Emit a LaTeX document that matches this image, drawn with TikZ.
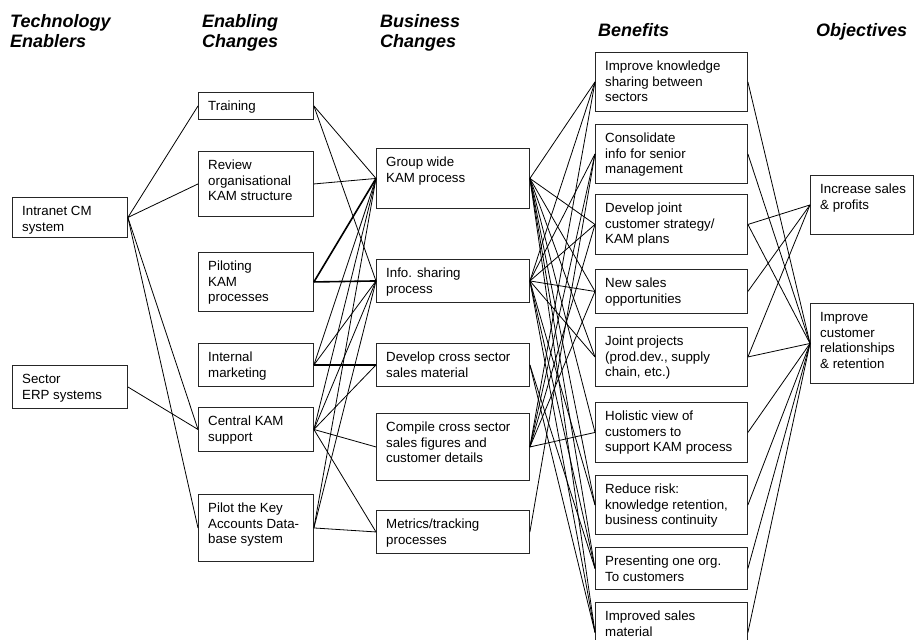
\documentclass[tikz,border=0pt]{standalone}
\usepackage{fontspec}
\setmainfont{Liberation Sans}
\usetikzlibrary{calc}
\tikzset{
  boxst/.style={draw=black!85, line width=0.9pt, inner sep=0pt, fill=none},
  txtst/.style={anchor=north west, inner sep=0pt, align=left, font=\fontsize{13.3}{15.8}\selectfont},
  headst/.style={anchor=north west, inner sep=0pt, align=left, font=\fontsize{18}{20}\selectfont\bfseries\itshape},
  ln/.style={draw=black, line width=0.8pt},
  lnb/.style={draw=black, line width=1.6pt}
}
\newcommand\bx[6]{%
  \node[boxst, minimum width=#4pt, minimum height=#5pt, anchor=north west] (#1) at (#2,#3) {};
  \node[txtst] (#1-t) at ($(#1.north west)+(10,6)$) {\rule{0pt}{12pt}#6};}
\begin{document}
\begin{tikzpicture}[x=1pt,y=-1pt]
\useasboundingbox (0,0) rectangle (914,640);
\fill[white] (0,0) rectangle (914,640);
% headers
\node[headst] (h1) at (10,13) {\rule{0pt}{14pt}Technology\\Enablers};
\node[headst] (h2) at (202,13) {\rule{0pt}{14pt}Enabling\\Changes};
\node[headst] (h3) at (380,13) {\rule{0pt}{14pt}Business\\Changes};
\node[headst] (h4) at (598,22) {\rule{0pt}{14pt}Benefits};
\node[headst] (h5) at (816,22) {\rule{0pt}{14pt}Objectives};
% column 1
\bx{IC}{12}{197}{115}{40}{Intranet CM\\system}
\bx{SE}{12}{365}{115}{43}{Sector\\ERP systems}
% column 2
\bx{TR}{198}{92}{115}{27}{Training}
\bx{RV}{198}{151}{115}{65}{Review\\organisational\\KAM structure}
\bx{PK}{198}{252}{115}{59}{Piloting\\KAM\\processes}
\bx{IM}{198}{343}{115}{43}{Internal\\marketing}
\bx{CK}{198}{407}{115}{44}{Central KAM\\support}
\bx{PD}{198}{494}{115}{67}{Pilot the Key\\Accounts Data-\\base system}
% column 3
\bx{GW}{376}{148}{153}{60}{Group wide\\KAM process}
\bx{IS}{376}{259}{153}{43}{Info. sharing\\process}
\bx{DC}{376}{343}{153}{43}{Develop cross sector\\sales material}
\bx{CC}{376}{413}{153}{67}{Compile cross sector\\sales figures and\\customer details}
\bx{MT}{376}{510}{153}{43}{Metrics/tracking\\processes}
% column 4
\bx{IKS}{595}{52}{152}{59}{Improve knowledge\\sharing between\\sectors}
\bx{CI}{595}{124}{152}{59}{Consolidate\\info for senior\\management}
\bx{DJ}{595}{194}{152}{60}{Develop joint\\customer strategy/\\KAM plans}
\bx{NS}{595}{269}{152}{44}{New sales\\opportunities}
\bx{JP}{595}{327}{152}{59}{Joint projects\\(prod.dev., supply\\chain, etc.)}
\bx{HV}{595}{402}{152}{60}{Holistic view of\\customers to\\support KAM process}
\bx{RR}{595}{475}{152}{59}{Reduce risk:\\knowledge retention,\\business continuity}
\bx{PO}{595}{547}{152}{42}{Presenting one org.\\To customers}
\bx{ISM}{595}{602}{152}{60}{Improved sales\\material}
% column 5
\bx{ISP}{810}{175}{103}{59}{Increase sales\\\& profits}
\bx{ICR}{810}{303}{103}{80}{Improve\\customer\\relationships\\\& retention}
% col1 -> col2
\foreach \a/\b in {IC/TR, IC/RV, IC/CK, IC/PD, SE/CK}
  \draw[ln] (\a.east) -- (\b.west);
% col2 -> col3
\foreach \a/\b in {TR/GW, TR/IS, RV/GW, IM/GW, IM/IS, CK/GW, CK/IS, CK/DC, CK/CC, CK/MT, PD/GW, PD/IS, PD/MT}
  \draw[ln] (\a.east) -- (\b.west);
\foreach \a/\b in {PK/GW, PK/IS, IM/DC}
  \draw[lnb] (\a.east) -- (\b.west);
% col3 -> col4
\foreach \a/\b in {GW/IKS, GW/DJ, GW/NS, GW/JP, GW/HV, GW/RR, GW/PO, GW/ISM,
                   IS/IKS, IS/CI, IS/DJ, IS/NS, IS/JP, IS/RR, IS/PO, IS/ISM,
                   DC/PO, DC/ISM,
                   CC/IKS, CC/CI, CC/DJ, CC/NS, CC/HV,
                   MT/CI}
  \draw[ln] (\a.east) -- (\b.west);
% col4 -> col5
\foreach \a/\b in {IKS/ICR, CI/ICR, DJ/ISP, DJ/ICR, NS/ISP, JP/ISP, JP/ICR, HV/ICR, RR/ICR, PO/ICR, ISM/ICR}
  \draw[ln] (\a.east) -- (\b.west);
\end{tikzpicture}
\end{document}
